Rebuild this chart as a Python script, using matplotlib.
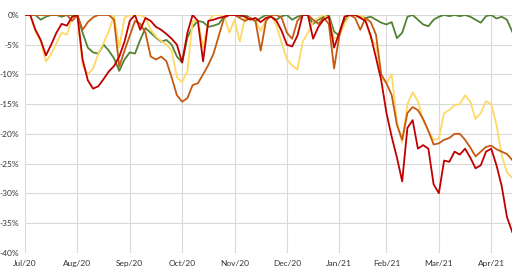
import matplotlib
matplotlib.use("Agg")
import matplotlib.pyplot as plt
from matplotlib.ticker import FuncFormatter

# drawdown series (%), one point every ~trading-day pair
red = [0, 0, -2.5, -4.2, -6.8, -5.0, -3.0, -1.5, -1.8, -0.3,
       0, -7.5, -11.0, -12.4, -12.0, -10.8, -9.5, -8.6, -7.0, -4.5,
       -1.0, 0, -2.5, -0.5, -1.0, -2.0, -2.5, -3.2, -4.0, -5.0,
       -8.0, -3.0, 0, -1.0, -7.8, -1.0, -0.8, -0.5, -0.3, 0,
       0, 0, -0.3, -0.8, -0.5, -1.2, -0.5, -0.3, -1.0, -2.7,
       -5.0, -5.3, -3.5, 0, 0, -4.0, -2.0, -0.8, -0.3, -5.5,
       -3.0, -0.3, 0, 0, -0.5, -1.0, -3.5, -7.2, -11.0, -16.5,
       -20.5, -24.0, -28.0, -19.0, -17.7, -22.5, -21.9, -22.5, -28.5, -30.0,
       -24.5, -24.7, -23.0, -23.5, -22.5, -24.0, -25.8, -25.3, -23.0, -22.5,
       -25.3, -28.8, -34.0, -36.5]

orange = [0, 0, 0, 0, 0, 0, 0, 0, 0, -1.0,
          0, -2.5, -1.2, -0.4, 0, 0, 0, -0.8, -8.7, -6.0,
          -3.5, -1.0, -1.5, -3.0, -7.0, -7.5, -7.0, -7.8, -10.5, -13.5,
          -14.6, -14.0, -11.8, -11.5, -10.0, -8.4, -6.5, -3.5, -0.5, 0,
          0, -0.5, -1.0, -0.5, -1.0, -6.0, -1.0, 0, 0, -0.5,
          -3.0, -4.0, -1.0, 0, 0, -0.8, -1.5, -0.5, -1.5, -9.0,
          -3.5, -0.3, 0, -0.5, -2.5, -0.5, -1.2, -3.3, -10.0, -11.5,
          -13.5, -18.5, -21.0, -16.5, -15.5, -16.0, -17.5, -19.5, -21.8, -21.6,
          -21.0, -20.7, -20.0, -20.0, -21.0, -22.3, -23.8, -23.0, -22.2, -22.0,
          -22.6, -23.0, -23.4, -24.4]

yellow = [0, 0, -2.8, -4.5, -7.8, -6.6, -4.8, -3.0, -3.3, -0.5,
          0, -8.5, -10.0, -9.0, -6.5, -4.7, -2.8, 0, -5.5, -0.5,
          0, 0, 0, -0.5, -2.5, -3.6, -4.4, -5.0, -6.0, -10.5,
          -11.3, -9.5, -1.0, -1.0, -5.5, -1.0, 0, 0, 0, -3.0,
          -0.8, -4.5, -0.5, -0.5, -1.0, -2.7, -0.8, 0, -1.8, -4.7,
          -7.5, -8.5, -9.2, -4.5, -3.0, -1.2, -0.5, 0, -0.5, -4.0,
          -3.5, -1.5, 0, 0, 0, -0.8, -4.0, -5.0, -10.5, -11.5,
          -10.0, -18.0, -21.5, -15.0, -13.0, -14.5, -17.7, -19.5, -21.0, -20.8,
          -16.5, -16.0, -15.2, -15.0, -13.5, -14.6, -17.5, -16.5, -14.5, -15.0,
          -18.5, -23.6, -26.5, -27.4]

green = [0, 0, 0, -0.8, -0.3, 0, 0, -0.3, 0, 0,
         0, -3.0, -5.5, -6.3, -6.5, -5.0, -6.0, -7.3, -9.4, -7.5,
         -6.3, -6.5, -4.2, -2.2, -3.0, -3.8, -4.5, -4.2, -5.0, -7.0,
         -8.0, -3.8, -2.0, -1.0, -1.2, -2.0, -1.8, -1.5, -0.3, 0,
         0, -0.2, 0, -0.5, -1.1, -0.5, 0, -0.3, -0.8, -0.2,
         0, -0.8, -0.3, 0, 0, -1.5, -0.8, -0.3, 0, -2.8,
         -3.5, -1.0, 0, 0, -0.3, -0.5, -0.3, -0.8, -1.3, -1.6,
         -1.2, -3.9, -3.0, -0.3, 0, -0.8, -1.6, -1.9, -0.8, -0.3,
         0, -0.2, 0, -0.2, 0, -0.3, -0.8, -1.3, -0.2, 0,
         -0.6, -0.3, -0.8, -2.8]

month_labels = ["Jul/20", "Aug/20", "Sep/20", "Oct/20", "Nov/20",
                "Dec/20", "Jan/21", "Feb/21", "Mar/21", "Apr/21"]
month_idx = [0, 10, 20, 30, 40, 50, 60, 69, 79, 89]

plt.rcParams["font.family"] = ["Lato", "DejaVu Sans"]

fig = plt.figure(figsize=(5.2, 2.72), dpi=100)
ax = fig.add_axes([0.048, 0.071, 0.937, 0.874])

x = list(range(len(red)))
ax.plot(x, green, color="#548235", lw=1.3, zorder=3)
ax.plot(x, yellow, color="#FFD966", lw=1.3, zorder=4)
ax.plot(x, orange, color="#C55A11", lw=1.3, zorder=5)
ax.plot(x, red, color="#C00000", lw=1.3, zorder=6)

ax.set_xlim(0, len(red) - 1)
ax.set_ylim(-40, 0)
ax.set_yticks(range(-40, 1, 5))
ax.yaxis.set_major_formatter(FuncFormatter(lambda v, p: f"{v:.0f}%"))
ax.set_xticks(month_idx)
ax.set_xticklabels(month_labels)

ax.grid(True, color="#d9d9d9", lw=0.8)
ax.set_axisbelow(True)
for s in ax.spines.values():
    s.set_visible(False)
ax.tick_params(length=0, labelsize=6, colors="#333333")
ax.tick_params(axis="y", pad=4)
ax.tick_params(axis="x", pad=5)

fig.savefig("out.png", dpi=100)
